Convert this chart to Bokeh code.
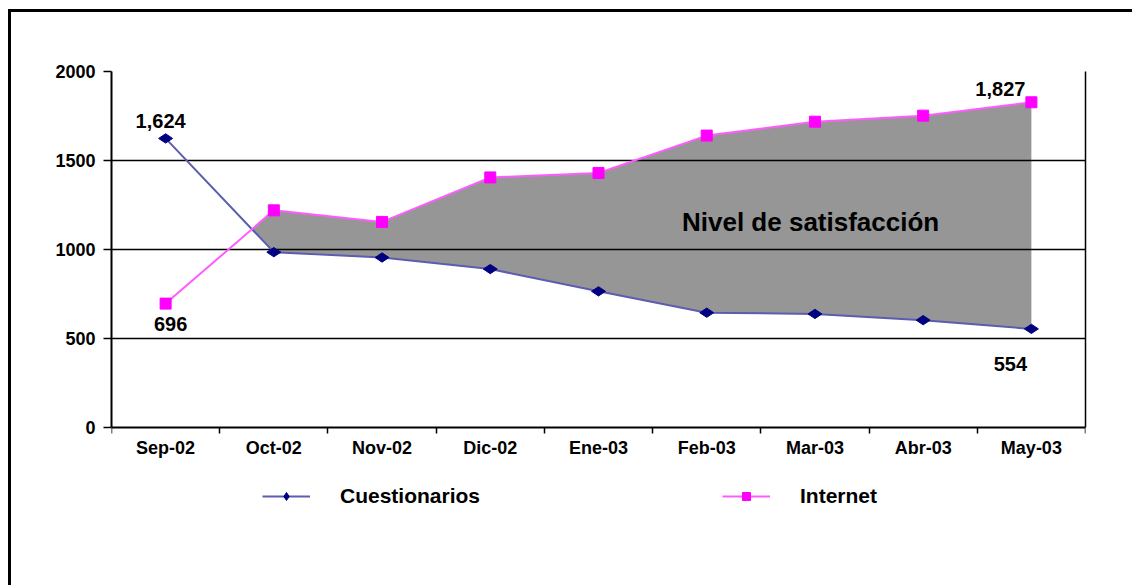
import numpy as np
from bokeh.plotting import figure
from bokeh.models import FixedTicker, Legend, LegendItem, Label, LinearAxis
from bokeh.core.properties import value
from bokeh.embed import file_html
from bokeh.resources import INLINE

# ---- data ----
months = ["Sep-02", "Oct-02", "Nov-02", "Dic-02", "Ene-03", "Feb-03", "Mar-03", "Abr-03", "May-03"]
cuestionarios = [1624, 985, 955, 890, 765, 645, 638, 603, 554]
internet = [696, 1220, 1155, 1405, 1430, 1640, 1718, 1752, 1827]
y_ticks = [0, 500, 1000, 1500, 2000]
grid_values = [500, 1000, 1500, 2000]
area_label = "Nivel de satisfacción"
area_label_pos = (6.46, 1152)

FONT = "Liberation Sans"

x = np.arange(len(months)) + 0.5
c = np.array(cuestionarios, float)
n = np.array(internet, float)
d = n - c
k = int(np.where((d[:-1] < 0) & (d[1:] >= 0))[0][0])
t = -d[k] / (d[k + 1] - d[k])
xc = x[k] + t
yc = c[k] + t * (c[k + 1] - c[k])
fx = np.concatenate([[xc], x[k + 1:]])
f_lo = np.concatenate([[yc], c[k + 1:]])
f_hi = np.concatenate([[yc], n[k + 1:]])

# layout: plotting box 356px tall, frame extended below to hold the legend
PLOT_H = 356
FRAME_H = 459
y_hi = y_ticks[-1]
y_lo = -y_hi * (FRAME_H - PLOT_H) / PLOT_H
x_hi = len(months)

p = figure(frame_width=974, frame_height=FRAME_H, x_range=(0, x_hi), y_range=(y_lo, y_hi),
           output_backend="svg", toolbar_location=None, x_axis_location=None, y_axis_location=None,
           min_border_left=100, min_border_top=59, min_border_right=47, min_border_bottom=55)
p.styles = {"border-left": "3px solid black", "border-top": "3px solid black",
            "border-right": "none", "border-bottom": "none",
            "margin-left": "8px", "margin-top": "9px"}
p.background_fill_color = "white"
p.border_fill_color = "white"
p.outline_line_color = None

p.xgrid.visible = False
p.ygrid.ticker = FixedTicker(ticks=grid_values)
p.ygrid.grid_line_color = "black"
p.ygrid.grid_line_width = 1.5

# y axis (left)
ya = LinearAxis(ticker=FixedTicker(ticks=y_ticks), bounds=(0, y_hi))
ya.major_tick_out = 8
ya.major_tick_in = 0
ya.minor_tick_out = 0
ya.minor_tick_in = 0
ya.axis_line_width = 2
ya.major_tick_line_width = 1.5
ya.major_label_standoff = 8
ya.major_label_text_font = FONT
ya.major_label_text_font_style = "bold"
ya.major_label_text_font_size = "18px"
ya.major_label_text_color = "black"
p.add_layout(ya, "left")

# right border of the plotting box
yr = LinearAxis(ticker=FixedTicker(ticks=[]), bounds=(0, y_hi))
yr.axis_line_width = 1.5
yr.major_tick_out = 0
yr.major_tick_in = 0
yr.minor_tick_out = 0
yr.minor_tick_in = 0
yr.major_label_text_font_size = "0px"
p.add_layout(yr, "right")

# x axis at y = 0
xa = LinearAxis(ticker=FixedTicker(ticks=list(x), minor_ticks=list(range(x_hi + 1))),
                fixed_location=0, bounds=(0, x_hi))
xa.major_label_overrides = {float(xi): m for xi, m in zip(x, months)}
xa.major_tick_out = 0
xa.major_tick_in = 0
xa.minor_tick_out = 6
xa.minor_tick_in = 0
xa.minor_tick_line_width = 1.5
xa.minor_tick_line_color = "black"
xa.axis_line_width = 2
xa.major_label_standoff = 4
xa.major_label_text_font = FONT
xa.major_label_text_font_style = "bold"
xa.major_label_text_font_size = "18px"
xa.major_label_text_color = "black"
p.add_layout(xa, "below")

# area
p.varea(x=fx, y1=f_lo, y2=f_hi, fill_color="#969696", level="image")

# series
lc = p.line(x, cuestionarios, line_color="#5c5cb0", line_width=2)
sc = p.scatter(x, cuestionarios, marker="diamond", size=14, angle=np.pi / 2,
               fill_color="#000080", line_color="#000080")
li = p.line(x, internet, line_color="#ff5cff", line_width=2)
si = p.scatter(x, internet, marker="square", size=11, fill_color="#ff00ff", line_color="#ff00ff")

# data labels
def lab(idx, series, dx, dy):
    p.text(x=[x[idx]], y=[series[idx]], text=["{:,}".format(series[idx])],
           x_offset=dx, y_offset=dy, text_font=value(FONT), text_font_style="bold",
           text_font_size="20px", text_align="center", text_baseline="middle",
           text_color="black")

lab(0, cuestionarios, -5, -17)
lab(0, internet, 5, 20)
lab(len(months) - 1, internet, -31, -13)
lab(len(months) - 1, cuestionarios, -21, 35)

p.add_layout(Label(x=area_label_pos[0], y=area_label_pos[1], text=area_label,
                   text_font=FONT, text_font_style="bold", text_font_size="26px",
                   text_align="center", text_baseline="middle", text_color="black"))

legend = Legend(items=[LegendItem(label="Cuestionarios", renderers=[lc, sc]),
                       LegendItem(label="Internet", renderers=[li, si])],
                orientation="horizontal", location=(151, 22))
legend.padding = 0
legend.margin = 0
legend.spacing = 242
legend.glyph_width = 48
legend.glyph_height = 20
legend.label_height = 20
legend.label_standoff = 30
legend.border_line_color = None
legend.background_fill_alpha = 0
legend.label_text_font = FONT
legend.label_text_font_style = "bold"
legend.label_text_font_size = "21px"
legend.label_text_color = "black"
p.add_layout(legend, "center")

open("out.html", "w").write(file_html(p, INLINE))
